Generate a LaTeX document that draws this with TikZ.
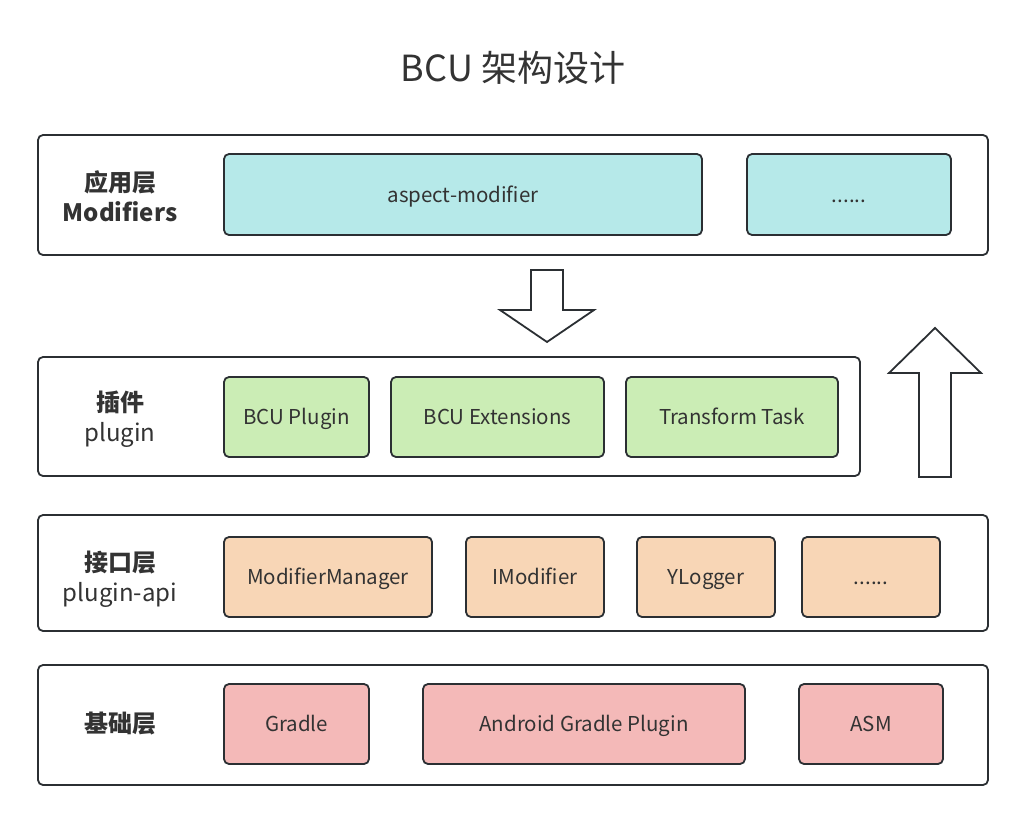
\documentclass[tikz,border=0pt]{standalone}
\usepackage{fontspec}
\setmainfont{Noto Sans CJK SC}
\definecolor{ink}{HTML}{333333}
\definecolor{edge}{HTML}{2B2F33}
\definecolor{cyanf}{HTML}{B6E9E9}
\definecolor{greenf}{HTML}{CBEDB5}
\definecolor{orangef}{HTML}{F8D6B6}
\definecolor{pinkf}{HTML}{F4B9B8}
\begin{document}
\begin{tikzpicture}[x=1pt,y=-1pt,
  layer/.style={draw=edge, line width=1.8pt, rounded corners=5pt, fill=white, inner sep=0pt},
  item/.style={draw=edge, line width=1.8pt, rounded corners=5pt, inner sep=0pt, text=ink, font=\fontsize{20.5}{24}\selectfont, text height=17pt, text depth=2pt},
  lbl/.style={text=ink, align=center, font=\fontsize{24}{30}\selectfont},
  bigarrow/.style={draw=edge, line width=1.8pt, fill=white, line join=miter}]
\useasboundingbox (0,0) rectangle (1026,822);
\node[text=ink, font=\fontsize{36}{40}\selectfont] (title) at (513,68) {BCU 架构设计};
% layers
\node[layer, minimum width=950, minimum height=120] (L1) at (513,195) {};
\node[layer, minimum width=822, minimum height=119] (L2) at (449,416.5) {};
\node[layer, minimum width=950, minimum height=116] (L3) at (513,573) {};
\node[layer, minimum width=950, minimum height=120] (L4) at (513,725) {};
% labels
\node[lbl] (t1) at (120,196) {\textbf{应用层}\\\textbf{Modifiers}};
\node[lbl] (t2) at (120,419) {\textbf{插件}\\plugin};
\node[lbl] (t3) at (120,579) {\textbf{接口层}\\plugin-api};
\node[lbl] (t4) at (120,724) {\textbf{基础层}};
% application layer
\node[item, fill=cyanf, minimum width=478, minimum height=81] (am) at (463,194.5) {aspect-modifier};
\node[item, fill=cyanf, minimum width=204, minimum height=81] (ad) at (849,194.5) {......};
% plugin
\node[item, fill=greenf, minimum width=145, minimum height=80] (bp) at (296.5,417) {BCU Plugin};
\node[item, fill=greenf, minimum width=213, minimum height=80] (be) at (497.5,417) {BCU Extensions};
\node[item, fill=greenf, minimum width=212, minimum height=80] (tt) at (732,417) {Transform Task};
% api
\node[item, fill=orangef, minimum width=208, minimum height=80] (mm) at (328,577) {ModifierManager};
\node[item, fill=orangef, minimum width=138, minimum height=80] (im) at (535,577) {IModifier};
\node[item, fill=orangef, minimum width=138, minimum height=80] (yl) at (706,577) {YLogger};
\node[item, fill=orangef, minimum width=138, minimum height=80] (od) at (871,577) {......};
% base
\node[item, fill=pinkf, minimum width=145, minimum height=80] (gr) at (296.5,724) {Gradle};
\node[item, fill=pinkf, minimum width=322, minimum height=80] (ag) at (584,724) {Android Gradle Plugin};
\node[item, fill=pinkf, minimum width=144, minimum height=80] (asm) at (871,724) {ASM};
% arrows
\draw[bigarrow] (531,270) -- (563,270) -- (563,310) -- (594,310) -- (547,342) -- (500,310) -- (531,310) -- cycle;
\draw[bigarrow] (919,477) -- (951,477) -- (951,373) -- (981,373) -- (935,328) -- (889,373) -- (919,373) -- cycle;
\end{tikzpicture}
\end{document}
